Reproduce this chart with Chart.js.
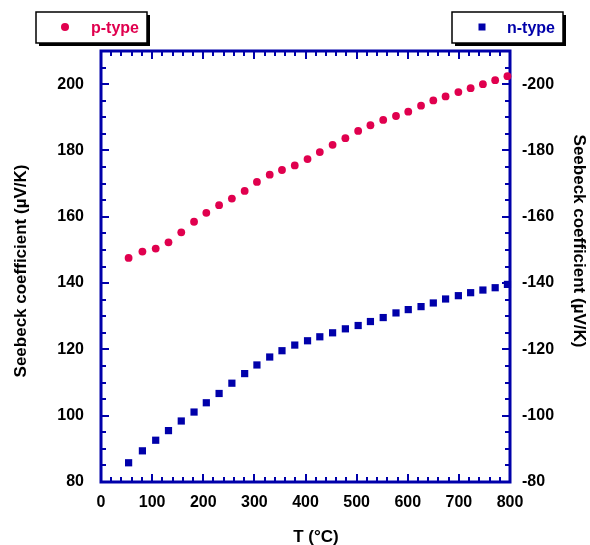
<!DOCTYPE html>
<html>
<head>
<meta charset="utf-8">
<script src="https://cdn.jsdelivr.net/npm/chart.js@4/dist/chart.umd.min.js"></script>
<style>
  html, body { margin: 0; padding: 0; background: #fff; }
  #wrap { width: 590px; height: 545px; position: relative; }
</style>
</head>
<body>
<div id="wrap"><canvas id="c" width="590" height="545"></canvas></div>
<script>
// ---- data ----
const temperatures = [54, 81, 107, 132, 157, 182, 206, 231, 256, 281, 305, 330, 354, 379, 404, 428,
                      453, 478, 503, 527, 552, 577, 601, 626, 650, 674, 699, 723, 747, 771, 795];
const pTypeSeebeck = [147.6, 149.5, 150.4, 152.3, 155.3, 158.5, 161.2, 163.5, 165.5, 167.8, 170.5,
                      172.7, 174.1, 175.5, 177.4, 179.5, 181.7, 183.7, 185.9, 187.6, 189.2, 190.4,
                      191.7, 193.5, 195.1, 196.3, 197.6, 198.8, 200.0, 201.2, 202.4];
const nTypeSeebeck = [-85.8, -89.4, -92.6, -95.5, -98.4, -101.1, -103.9, -106.7, -109.8, -112.7, -115.3,
                      -117.7, -119.6, -121.3, -122.6, -123.8, -125.0, -126.2, -127.2, -128.4, -129.6,
                      -131.0, -132.0, -132.9, -134.0, -135.2, -136.2, -137.1, -137.9, -138.6, -139.6];
const seriesLabels = ['p-type', 'n-type'];
const xTickLabels = [0, 100, 200, 300, 400, 500, 600, 700, 800];
const yLeftTickLabels = [80, 100, 120, 140, 160, 180, 200];
const yRightTickLabels = [-80, -100, -120, -140, -160, -180, -200];
const xTitle = 'T (°C)';
const yTitle = 'Seebeck coefficient (µV/K)';

const RED = '#e0004e';
const BLUE = '#0000aa';
const FONT = '"Liberation Sans", Arial, sans-serif';

const frameAndTicks = {
  id: 'frameAndTicks',
  beforeDatasetsDraw(chart) {
    const { ctx, chartArea: a, scales } = chart;
    ctx.save();
    ctx.strokeStyle = BLUE;
    ctx.lineWidth = 2;
    ctx.beginPath();
    for (let v = 0; v <= 800; v += 20) {
      const px = Math.round(scales.x.getPixelForValue(v));
      const len = (v % 100 === 0) ? 8 : 5;
      ctx.moveTo(px, a.bottom); ctx.lineTo(px, a.bottom - len);
      ctx.moveTo(px, a.top); ctx.lineTo(px, a.top + len);
    }
    for (let v = 80; v <= 210; v += 5) {
      const py = Math.round(scales.y.getPixelForValue(v));
      const len = ((v - 80) % 20 === 0) ? 8 : 5;
      ctx.moveTo(a.left, py); ctx.lineTo(a.left + len, py);
    }
    for (let v = -80; v >= -210; v -= 5) {
      const py = Math.round(scales.y2.getPixelForValue(v));
      const len = ((-v - 80) % 20 === 0) ? 8 : 5;
      ctx.moveTo(a.right, py); ctx.lineTo(a.right - len, py);
    }
    ctx.stroke();
    ctx.lineWidth = 3;
    ctx.strokeRect(a.left, a.top, a.right - a.left, a.bottom - a.top);
    ctx.restore();
  },
  afterDraw(chart) {
    const { ctx, chartArea: a } = chart;
    ctx.save();
    ctx.fillStyle = '#000';
    ctx.font = 'bold 17px ' + FONT;
    ctx.textAlign = 'center';
    ctx.textBaseline = 'middle';
    ctx.fillText(xTitle, 316, 537);
    ctx.save();
    ctx.translate(21, 271);
    ctx.rotate(-Math.PI / 2);
    ctx.fillText(yTitle, 0, 0);
    ctx.restore();
    ctx.save();
    ctx.translate(579, 241);
    ctx.rotate(Math.PI / 2);
    ctx.fillText(yTitle, 0, 0);
    ctx.restore();

    // legend boxes
    const boxes = [
      { x: 36, y: 12, w: 111, h: 31, ds: 0 },
      { x: 452, y: 12, w: 111, h: 31, ds: 1 }
    ];
    boxes.forEach(b => {
      const ds = chart.data.datasets[b.ds];
      ctx.fillStyle = '#000';
      ctx.fillRect(b.x + 3, b.y + 3, b.w, b.h);
      ctx.fillStyle = '#fff';
      ctx.fillRect(b.x, b.y, b.w, b.h);
      ctx.strokeStyle = '#000';
      ctx.lineWidth = 1.5;
      ctx.strokeRect(b.x, b.y, b.w, b.h);
      ctx.fillStyle = ds.backgroundColor;
      if (ds.pointStyle === 'circle') {
        ctx.beginPath(); ctx.arc(b.x + 29, b.y + 15, 4, 0, Math.PI * 2); ctx.fill();
      } else {
        ctx.fillRect(b.x + 26.5, b.y + 11.5, 7, 7);
      }
      ctx.font = 'bold 16px ' + FONT;
      ctx.textAlign = 'left';
      ctx.textBaseline = 'middle';
      ctx.fillText(ds.label, b.x + 55, b.y + 17);
    });
    ctx.restore();
  }
};

const tickFont = { family: FONT, size: 16, weight: 'bold' };

new Chart(document.getElementById('c'), {
  type: 'scatter',
  data: {
    datasets: [
      {
        label: seriesLabels[0],
        data: temperatures.map((t, i) => ({ x: t, y: pTypeSeebeck[i] })),
        yAxisID: 'y',
        pointStyle: 'circle',
        pointRadius: 3.9,
        backgroundColor: RED,
        borderColor: RED,
        borderWidth: 0,
        clip: false
      },
      {
        label: seriesLabels[1],
        data: temperatures.map((t, i) => ({ x: t, y: nTypeSeebeck[i] })),
        yAxisID: 'y2',
        pointStyle: 'rect',
        pointRadius: 5.1,
        backgroundColor: BLUE,
        borderColor: BLUE,
        borderWidth: 0,
        clip: false
      }
    ]
  },
  options: {
    responsive: false,
    animation: false,
    devicePixelRatio: 1,
    layout: { padding: { top: 51, left: 0, right: 0, bottom: 0 } },
    plugins: { legend: { display: false }, tooltip: { enabled: false } },
    scales: {
      x: {
        type: 'linear', position: 'bottom', min: 0, max: 800,
        grid: { display: false, drawTicks: false },
        border: { display: false },
        afterBuildTicks: s => { s.ticks = xTickLabels.map(v => ({ value: v })); },
        afterFit: s => { s.height = 63; },
        ticks: { color: '#000', font: tickFont, padding: 11, maxRotation: 0, autoSkip: false }
      },
      y: {
        type: 'linear', position: 'left', min: 80, max: 210,
        grid: { display: false, drawTicks: false },
        border: { display: false },
        afterBuildTicks: s => { s.ticks = yLeftTickLabels.map(v => ({ value: v })); },
        afterFit: s => { s.width = 101; },
        ticks: { color: '#000', font: tickFont, padding: 17, autoSkip: false }
      },
      y2: {
        type: 'linear', position: 'right', min: -210, max: -80, reverse: true,
        grid: { display: false, drawTicks: false },
        border: { display: false },
        afterBuildTicks: s => { s.ticks = yRightTickLabels.map(v => ({ value: v })); },
        afterFit: s => { s.width = 80; },
        ticks: { color: '#000', font: tickFont, padding: 12, autoSkip: false }
      }
    }
  },
  plugins: [frameAndTicks]
});
</script>
</body>
</html>
